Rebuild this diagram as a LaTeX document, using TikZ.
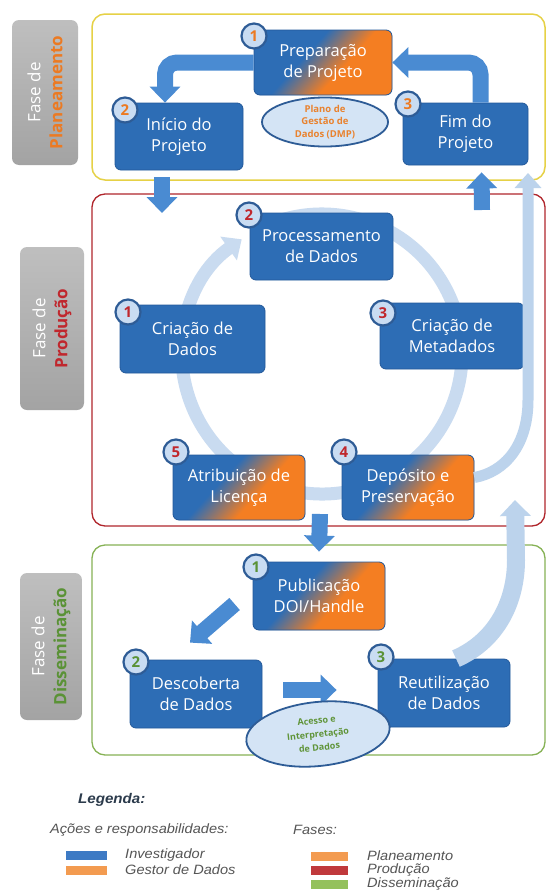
\documentclass[tikz,border=0pt]{standalone}
\usepackage{fontspec}
\setmainfont{Open Sans}
\newfontfamily\legfont[FakeStretch=1.08]{Liberation Sans}
\usetikzlibrary{arrows.meta,calc,shapes.geometric}
\definecolor{boxblue}{HTML}{2D6DB5}
\definecolor{boxedge}{HTML}{23599A}
\definecolor{boxorange}{HTML}{F47E22}
\definecolor{arrowblue}{HTML}{4A8BD2}
\definecolor{ringblue}{HTML}{C9DBF0}
\definecolor{lightarrow}{HTML}{BCD3EC}
\definecolor{badgefill}{HTML}{C9DCF2}
\definecolor{badgeedge}{HTML}{2E5C96}
\definecolor{planorange}{HTML}{EC7A22}
\definecolor{prodred}{HTML}{C0272D}
\definecolor{dissgreen}{HTML}{5A9236}
\definecolor{frameyellow}{HTML}{E6D146}
\definecolor{framered}{HTML}{B0262C}
\definecolor{framegreen}{HTML}{86B255}
\definecolor{labelgray}{HTML}{A3A3A3}
\definecolor{legtext}{HTML}{555555}
\definecolor{legtitlec}{HTML}{2C3B4C}
\definecolor{legblue}{HTML}{3D7AC4}
\definecolor{legorange}{HTML}{F39B50}
\definecolor{legred}{HTML}{C0393C}
\definecolor{leggreen}{HTML}{94C15C}
\definecolor{ellfill}{HTML}{D4E4F5}
\definecolor{ellorange}{HTML}{E9822E}
\definecolor{ellgreen}{HTML}{5F9438}
\pgfdeclarehorizontalshading{boxgrad}{100bp}{color(0bp)=(boxblue); color(45bp)=(boxblue); color(55bp)=(boxorange); color(100bp)=(boxorange)}
\tikzset{
  actbox/.style={draw=boxedge, line width=0.8pt, fill=boxblue, rounded corners=6pt,
    text=white, font=\fontsize{16.5}{21}\selectfont, align=center, inner sep=0pt},
  gradbox/.style={actbox, path picture={
      \shade[shading=boxgrad, shading angle=-42]
        ([shift={(-90pt,-90pt)}]path picture bounding box.center) rectangle
        ([shift={(90pt,90pt)}]path picture bounding box.center);}},
  badge/.style={circle, draw=badgeedge, line width=2.2pt, fill=badgefill, minimum size=25pt,
    inner sep=0pt, font=\fontsize{15}{15}\selectfont\bfseries},
  bubble/.style={ellipse, draw=badgeedge, line width=1.8pt, fill=ellfill, inner sep=0pt,
    align=center, font=\fontsize{9.5}{12.5}\selectfont\bfseries},
  phaselabel/.style={rounded corners=7pt, rotate=90, top color=labelgray!70!white,
    bottom color=labelgray, text=white, align=center, inner sep=0pt,
    font=\fontsize{17}{22}\selectfont},
  frame/.style={rounded corners=13pt, line width=1.5pt},
  bigarrow/.style={draw=arrowblue, line width=16pt, -{Triangle[width=30pt,length=16pt]}},
  lightline/.style={draw=lightarrow, line width=11pt, -{Triangle[width=26pt,length=15pt]}},
  lightbig/.style={draw=lightarrow, line width=18pt, -{Triangle[width=30pt,length=16pt]}},
  ringline/.style={draw=ringblue, line width=13pt, -{Triangle[width=28pt,length=16pt]}},
  legbar/.style={inner sep=0pt, minimum height=9pt},
  legtxt/.style={anchor=west, inner sep=0pt, text=legtext, font=\legfont\itshape\fontsize{13.5}{14}\selectfont},
}
\begin{document}
\begin{tikzpicture}[x=1pt,y=1pt]
\useasboundingbox (0,0) rectangle (547,-894);
\fill[white] (0,0) rectangle (547,-894);

% phase labels
\node[phaselabel, minimum width=145pt, minimum height=66pt] (lplan) at (45,-92.5)
  {Fase de\\\textbf{\color{planorange}Planeamento}};
\node[phaselabel, minimum width=163pt, minimum height=64pt] (lprod) at (52,-328.5)
  {Fase de\\\textbf{\color{prodred}Produção}};
\node[phaselabel, minimum width=147pt, minimum height=62pt] (ldiss) at (51,-646.5)
  {Fase de\\\textbf{\color{dissgreen}Disseminação}};

% frames
\draw[frame, draw=frameyellow] (92,-14) rectangle (545,-180);
\draw[frame, draw=framered, line width=1.3pt] (92,-194) rectangle (545,-526);
\draw[frame, draw=framegreen, line width=1.3pt] (92,-545) rectangle (545,-755);

% production cycle ring
\draw[ringline] (322,-354) ++(118:140) arc[start angle=118, end angle=-235, radius=140];

% coordinates for free ends
\coordinate (fimin) at (528,-173);
\coordinate (produp) at (515,-500);
\coordinate (prodin) at (162,-213);
\coordinate (prodout) at (482,-210);
\coordinate (prodbase) at (320,-514);

% boxes: planning
\node[gradbox, minimum width=138pt, minimum height=65pt] (p1) at (323,-62.5) {Preparação\\de Projeto};
\node[actbox, minimum width=128pt, minimum height=67pt] (p2) at (179,-136.5) {Início do\\Projeto};
\node[actbox, minimum width=125pt, minimum height=62pt] (p3) at (465.5,-134) {Fim do\\Projeto};
\node[bubble, minimum width=126pt, minimum height=49pt, text=ellorange] (dmp) at (325,-122)
  {Plano de\\Gestão de\\Dados (DMP)};

% boxes: production
\node[actbox, minimum width=143pt, minimum height=67pt] (r2) at (321.5,-246.5) {Processamento\\de Dados};
\node[actbox, minimum width=145pt, minimum height=68pt] (r1) at (192.5,-339) {Criação de\\Dados};
\node[actbox, minimum width=144pt, minimum height=66pt] (r3) at (452,-336) {Criação de\\Metadados};
\node[gradbox, minimum width=132pt, minimum height=65pt] (r5) at (239,-487.5) {Atribuição de\\Licença};
\node[gradbox, minimum width=132pt, minimum height=65pt] (r4) at (408,-487.5) {Depósito e\\Preservação};

% boxes: dissemination
\node[gradbox, minimum width=132pt, minimum height=68pt] (d1) at (319,-596) {Publicação\\DOI/Handle};
\node[actbox, minimum width=132pt, minimum height=68pt] (d2) at (196,-694) {Descoberta\\de Dados};
\node[actbox, minimum width=132pt, minimum height=68pt] (d3) at (444,-693) {Reutilização\\de Dados};

% light arrows
\draw[lightbig] ($(d3.north)+(12,0)$) .. controls (498,-640) and (516,-600) .. (516,-560) -- (produp);
\draw[lightline] ($(r4.east)+(0,10)$) .. controls (505,-472) and (528,-445) .. (528,-400) -- (fimin);

% blue arrows
\draw[bigarrow, rounded corners=12pt] (p1.west) -| ([xshift=-14pt]p2.north);
\draw[bigarrow, rounded corners=12pt] ([xshift=15pt]p3.north) |- (p1.east);
\draw[bigarrow, shorten <=7pt] ([xshift=-17pt]p2.south) -- (prodin);
\draw[bigarrow] (prodout) -- ([xshift=16pt,yshift=-7pt]p3.south);
\draw[bigarrow] (prodbase) -- ([yshift=10pt]d1.north);
\draw[bigarrow] ($(d1.west)+(-18,-8)$) -- ($(d2.north)+(-6,17)$);
\draw[bigarrow] ($(d2.east)+(21,4)$) -- ($(d3.west)+(-41,3)$);

\node[bubble, minimum width=144pt, minimum height=64pt, text=ellgreen, rotate=6, font=\fontsize{9}{13.5}\selectfont\bfseries] (acc) at (318,-734)
  {Acesso e\\Interpretação\\de Dados};

% badges
\node[badge, text=planorange] (b11) at (254,-36) {1};
\node[badge, text=planorange] (b12) at (125,-110) {2};
\node[badge, text=planorange] (b13) at (408,-104) {3};
\node[badge, text=prodred] (b22) at (249,-215) {2};
\node[badge, text=prodred] (b21) at (128,-312) {1};
\node[badge, text=prodred] (b23) at (383,-313) {3};
\node[badge, text=prodred] (b25) at (176,-452) {5};
\node[badge, text=prodred] (b24) at (344,-452) {4};
\node[badge, text=dissgreen] (b31) at (256,-567) {1};
\node[badge, text=dissgreen] (b32) at (136,-662) {2};
\node[badge, text=dissgreen] (b33) at (381,-657) {3};

% legend
\node[anchor=west, inner sep=0pt, text=legtitlec, font=\legfont\bfseries\itshape\fontsize{14}{15}\selectfont] (legt) at (78,-800) {Legenda:};
\node[legtxt] (lgA) at (50,-830) {Ações e responsabilidades:};
\node[legtxt] (lgF) at (293,-830) {Fases:};
\node[legbar, fill=legblue, minimum width=41pt] (bar1) at (86.5,-855.5) {};
\node[legbar, fill=legorange, minimum width=41pt] (bar2) at (86.5,-870) {};
\node[legtxt] (t1) at (125,-855) {Investigador};
\node[legtxt] (t2) at (125,-870) {Gestor de Dados};
\node[legbar, fill=legorange, minimum width=37pt] (bar3) at (329.5,-856.5) {};
\node[legbar, fill=legred, minimum width=37pt] (bar4) at (329.5,-870.5) {};
\node[legbar, fill=leggreen, minimum width=37pt] (bar5) at (329.5,-884.5) {};
\node[legtxt] (t3) at (367,-856) {Planeamento};
\node[legtxt] (t4) at (367,-870) {Produção};
\node[legtxt] (t5) at (367,-884) {Disseminação};
\end{tikzpicture}
\end{document}
